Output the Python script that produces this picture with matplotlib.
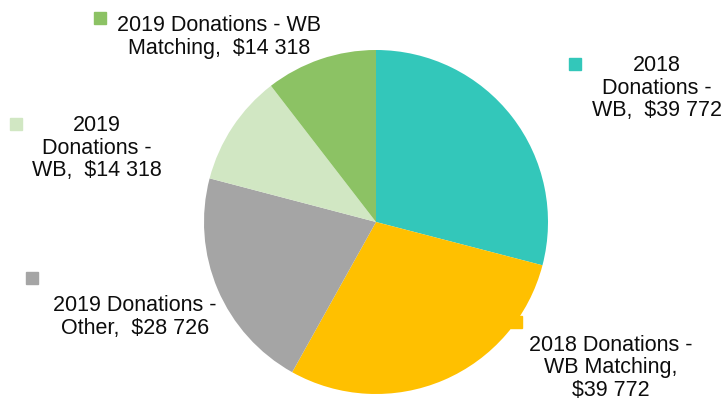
import matplotlib
matplotlib.use('Agg')
import matplotlib.pyplot as plt

categories = ['2018 Donations - WB', '2018 Donations - WB Matching',
              '2019 Donations - Other', '2019 Donations - WB',
              '2019 Donations - WB Matching']
values = [39772, 39772, 28726, 14318, 14318]
colors = ['#33c7ba', '#ffc000', '#a5a5a5', '#d1e7c3', '#8cc264']

# how each data label wraps ({} = value)
label_fmt = ['2018\nDonations -\nWB,  {}',
             '2018 Donations -\nWB Matching,\n{}',
             '2019 Donations -\nOther,  {}',
             '2019\nDonations -\nWB,  {}',
             '2019 Donations - WB\nMatching,  {}']

# label placement in pixels (text centre, key square)
text_xy = [(657, 88), (611, 368), (135, 317), (97, 148), (219, 37)]
key_xy = [(575, 64), (516, 322), (32, 278), (16, 124), (100, 18)]

W, H = 723, 401
fig = plt.figure(figsize=(W / 100, H / 100), dpi=100)
ax = fig.add_axes([0, 0, 1, 1])

ax.pie(values, colors=colors, startangle=90, counterclock=False,
       center=(376, H - 222), radius=172,
       wedgeprops={'linewidth': 0})

for fmt, v, c, (tx, ty), (kx, ky) in zip(label_fmt, values, colors, text_xy, key_xy):
    txt = fmt.format('$' + f'{v:,}'.replace(',', ' '))
    ax.text(tx, H - ty, txt, ha='center', va='center', fontsize=15.5,
            family='Liberation Sans', color='#0d0d0d', linespacing=1.1)
    ax.plot(kx, H - ky, marker='s', markersize=8, color=c, linestyle='none')

ax.set_aspect('auto')
ax.set_xlim(0, W)
ax.set_ylim(0, H)
ax.axis('off')

fig.savefig('out.png', dpi=100)
